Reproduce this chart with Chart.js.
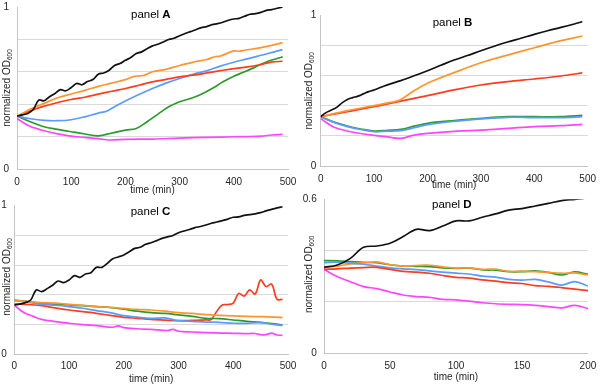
<!DOCTYPE html>
<html>
<head>
<meta charset="utf-8">
<script src="https://cdn.jsdelivr.net/npm/chart.js@4.4.1/dist/chart.umd.min.js"></script>
<style>
  html, body { margin: 0; padding: 0; background: #ffffff; }
  #wrap { position: relative; width: 603px; height: 384px; overflow: hidden; }
  canvas { position: absolute; left: 0; top: -20px; }
</style>
</head>
<body>
<div id="wrap">
  <canvas id="cA" width="603" height="404"></canvas>
  <canvas id="cB" width="603" height="404"></canvas>
  <canvas id="cC" width="603" height="404"></canvas>
  <canvas id="cD" width="603" height="404"></canvas>
</div>
<script>
// ---------------- DATA ----------------
const seriesNames = ['black', 'orange', 'red', 'blue', 'green', 'magenta'];

// Panel A
const A_black_t = [0,10,20,30,40,50,60,70,80,90,100,110,120,130,140,150,160,170,180,190,200,210,220,230,240,250,260,270,280,290,300,310,320,330,340,350,360,370,380,390,400,410,420,430,440,450,460,470,480,490];
const A_black = [.326,.334,.343,.367,.425,.421,.446,.466,.49,.483,.503,.528,.52,.54,.552,.585,.593,.61,.639,.651,.671,.688,.713,.723,.743,.76,.77,.784,.799,.807,.823,.836,.848,.86,.873,.879,.891,.897,.906,.918,.926,.93,.943,.955,.959,.967,.979,.984,.992,1.0];
const A_orange_t = [0,25,50,75,100,125,150,175,200,215,225,235,250,275,300,325,350,365,375,400,410,420,450,470,490];
const A_orange = [.326,.37,.405,.44,.463,.485,.51,.53,.552,.57,.575,.578,.6,.615,.639,.66,.676,.693,.697,.729,.727,.733,.749,.763,.78];
const A_red_t = [0,25,50,75,100,125,150,175,200,225,250,275,300,325,350,375,400,425,450,470,490];
const A_red = [.326,.36,.388,.41,.429,.443,.462,.48,.497,.517,.538,.553,.569,.58,.593,.607,.62,.63,.645,.66,.665];
const A_blue_t = [0,25,50,75,100,125,150,165,180,200,225,250,275,300,325,350,375,400,425,450,475,490];
const A_blue = [.326,.31,.3,.298,.304,.322,.345,.357,.385,.42,.46,.497,.53,.559,.585,.606,.635,.659,.68,.702,.723,.737];
const A_green_t = [0,20,50,75,100,125,150,175,200,220,240,260,280,300,320,340,360,380,400,420,440,460,480,490];
const A_green = [.326,.298,.261,.245,.23,.216,.205,.222,.24,.25,.292,.339,.384,.415,.435,.462,.497,.538,.573,.6,.63,.661,.682,.692];
const A_magenta_t = [0,10,25,50,75,100,125,150,170,200,250,300,350,400,450,470,490];
const A_magenta = [.312,.29,.262,.236,.217,.203,.195,.187,.179,.183,.185,.191,.195,.199,.203,.21,.214];

// Panel B
const B_black_t = [0,10,20,30,40,50,60,70,80,90,100,125,150,175,200,225,250,275,300,325,350,375,400,425,450,475,490];
const B_black = [.328,.355,.372,.39,.42,.443,.455,.465,.48,.495,.506,.54,.568,.6,.634,.67,.705,.735,.767,.797,.825,.85,.876,.9,.922,.945,.96];
const B_orange_t = [0,50,100,140,150,175,200,225,250,275,300,350,400,450,490];
const B_orange = [.328,.368,.402,.43,.443,.5,.55,.588,.621,.655,.687,.738,.787,.834,.865];
const B_red_t = [0,50,100,150,200,250,300,350,400,450,490];
const B_red = [.328,.362,.395,.432,.468,.506,.539,.561,.579,.599,.619];
const B_gb_t = [0,25,50,75,100,125,150,175,200,250,300,350,400,450,490];
const B_green = [.328,.292,.266,.246,.233,.238,.244,.265,.284,.302,.317,.328,.328,.328,.337];
const B_blue = [.328,.29,.262,.243,.228,.232,.235,.255,.275,.297,.313,.324,.322,.322,.328];
const B_magenta_t = [0,25,50,75,100,125,150,175,200,250,300,350,400,450,490];
const B_magenta = [.315,.258,.233,.216,.204,.194,.184,.205,.217,.231,.239,.25,.262,.268,.277];

// Panel C
const C_black_t = A_black_t;
const C_black = [.332,.338,.348,.365,.433,.422,.442,.465,.493,.482,.5,.529,.518,.54,.549,.585,.585,.612,.643,.655,.668,.69,.713,.72,.74,.751,.765,.78,.79,.8,.818,.83,.84,.852,.86,.87,.882,.89,.9,.91,.922,.925,.935,.94,.945,.953,.965,.975,.985,.993];
const C_ogb_t = [0,25,50,75,100,125,150,175,200,225,250,275,300,325,350,375,400,425,450,475,490];
const C_orange = [.361,.355,.348,.345,.336,.33,.321,.316,.309,.302,.298,.29,.28,.275,.267,.262,.258,.255,.253,.25,.247];
const C_green = [.365,.355,.343,.338,.332,.327,.321,.315,.303,.29,.28,.275,.265,.255,.242,.24,.231,.222,.215,.205,.197];
const C_blue = [.361,.35,.336,.33,.321,.31,.294,.28,.26,.25,.242,.245,.226,.222,.217,.215,.209,.208,.213,.2,.195];
const C_red_t = [0,25,50,75,100,125,150,175,200,225,250,275,300,325,350,360,370,380,390,400,410,420,430,440,450,460,470,480,490];
const C_red = [.338,.335,.327,.312,.298,.287,.276,.262,.249,.242,.235,.23,.226,.228,.231,.235,.29,.332,.335,.345,.41,.392,.433,.406,.5,.455,.473,.37,.37];
const C_magenta_t = [0,10,20,35,50,75,100,125,150,180,190,200,225,250,280,290,300,325,350,380,400,420,440,450,460,470,480,490];
const C_magenta = [.332,.3,.276,.255,.235,.22,.209,.2,.193,.182,.191,.179,.172,.168,.16,.168,.155,.15,.146,.143,.141,.139,.14,.132,.133,.142,.13,.128];

// Panel D
const D_t = [0,10,20,30,40,50,60,70,80,90,100,110,120,130,140,150,160,170,180,190,200];
const D_black = [.335,.344,.37,.413,.418,.429,.455,.483,.478,.496,.516,.516,.53,.543,.558,.564,.574,.584,.595,.6,.606];
const D_orange = [.335,.34,.348,.353,.356,.345,.34,.342,.343,.337,.332,.333,.327,.328,.319,.32,.318,.315,.312,.313,.305];
const D_red = [.327,.329,.332,.334,.335,.327,.319,.316,.312,.303,.296,.293,.286,.281,.275,.272,.264,.261,.256,.25,.244];
const D_blue = [.353,.355,.351,.347,.34,.333,.329,.326,.321,.316,.312,.309,.301,.297,.288,.285,.288,.278,.266,.279,.262];
const D_green = [.361,.36,.357,.354,.353,.345,.34,.339,.338,.333,.331,.332,.325,.324,.318,.318,.321,.315,.305,.317,.308];
const D_magenta = [.327,.299,.279,.26,.252,.239,.227,.221,.218,.21,.208,.203,.197,.193,.191,.19,.187,.182,.177,.187,.174];

// Axis tick settings
const A_xMax = 500, A_xStep = 100, A_yMax = 1;
const D_xMax = 200, D_xStep = 50, D_yMax = 0.6;
const yStep = 0.2;

// ---------------- STYLE ----------------
const FF = '"Liberation Sans", Arial, Helvetica, sans-serif';
const OFF = 20;            // canvases are shifted up by this many px
const CW = 603, CH = 404;
const colors = {
  black: '#111111', orange: '#ff9530', red: '#ff3c1e',
  blue: '#5b9bff', green: '#2a9a2a', magenta: '#ff45ff'
};
const textColor = '#262626';

function pts(t, v) { return t.map((x, i) => ({ x: x, y: v[i] })); }

const panelText = {
  id: 'panelText',
  afterDraw(chart, args, o) {
    const ctx = chart.ctx, a = chart.chartArea;
    ctx.save();
    ctx.translate(o.yTitleX, (a.top + a.bottom) / 2 + (o.yTitleDy || 0));
    ctx.rotate(-Math.PI / 2);
    ctx.fillStyle = textColor;
    ctx.textBaseline = 'middle';
    ctx.textAlign = 'left';
    const main = 'normalized OD', sub = '600';
    ctx.font = '10px ' + FF;
    const w1 = ctx.measureText(main).width;
    ctx.font = '6.5px ' + FF;
    const w2 = ctx.measureText(sub).width;
    const start = -(w1 + w2) / 2;
    ctx.font = '10px ' + FF;
    ctx.fillText(main, start, 0);
    ctx.font = '6.5px ' + FF;
    ctx.fillText(sub, start + w1, 2.5);
    ctx.restore();
    ctx.save();
    ctx.fillStyle = '#000000';
    ctx.textBaseline = 'middle';
    ctx.textAlign = 'left';
    ctx.font = '11.5px ' + FF;
    const p = 'panel ';
    const pw = ctx.measureText(p).width;
    ctx.fillText(p, o.titleX, o.titleY + OFF);
    ctx.font = 'bold 11.5px ' + FF;
    ctx.fillText(o.letter, o.titleX + pw, o.titleY + OFF);
    ctx.restore();
  }
};

function makePanel(id, sets, xMax, xStep, yMax, geo) {
  const datasets = sets.map(s => ({
    data: pts(s[1], s[2]),
    borderColor: colors[s[0]],
    borderWidth: 1.7,
    pointRadius: 0,
    tension: 0.35,
    fill: false
  }));
  const pad = {
    left: geo.l - geo.yw,
    right: CW - geo.r,
    top: geo.t + OFF,
    bottom: CH - (geo.b + OFF) - geo.xh
  };
  return new Chart(document.getElementById(id), {
    type: 'line',
    data: { datasets },
    plugins: [panelText],
    options: {
      responsive: false,
      animation: false,
      devicePixelRatio: 1,
      layout: { padding: pad },
      plugins: {
        legend: { display: false },
        tooltip: { enabled: false },
        panelText: { yTitleX: geo.ytx, yTitleDy: geo.ytdy || 0, titleX: geo.tx, titleY: geo.ty, letter: geo.letter }
      },
      scales: {
        x: {
          type: 'linear', min: 0, max: xMax,
          grid: { display: false, drawTicks: false },
          border: { display: true, color: '#c4c4c4', width: 1 },
          ticks: { stepSize: xStep, padding: geo.xpad, color: textColor, font: { family: FF, size: 10 }, maxRotation: 0 },
          title: { display: true, text: 'time (min)', color: textColor, padding: 0, font: { family: FF, size: 10 } },
          afterFit: (s) => { s.height = geo.xh; }
        },
        y: {
          type: 'linear', min: 0, max: yMax,
          grid: {
            drawTicks: false,
            color: (c) => (c.tick && c.tick.value > yMax - 1e-9) ? 'rgba(0,0,0,0)' : '#dadada',
            lineWidth: 1
          },
          border: { display: true, color: '#c4c4c4', width: 1 },
          ticks: {
            stepSize: yStep, padding: geo.ypad, color: textColor, font: { family: FF, size: 10 },
            callback: (v) => (Math.abs(v) < 1e-9 ? '0' : (Math.abs(v - yMax) < 1e-9 ? String(yMax) : ''))
          },
          afterFit: (s) => { s.width = geo.yw; }
        }
      }
    }
  });
}

makePanel('cA', [
  ['black', A_black_t, A_black], ['orange', A_orange_t, A_orange], ['red', A_red_t, A_red],
  ['blue', A_blue_t, A_blue], ['green', A_green_t, A_green], ['magenta', A_magenta_t, A_magenta]
], A_xMax, A_xStep, A_yMax,
  { l: 17, r: 288, t: 7, b: 169, yw: 17, xh: 27, xpad: 7, ypad: 8, ytx: 7.5, tx: 131, ty: 15, letter: 'A' });

makePanel('cB', [
  ['black', B_black_t, B_black], ['orange', B_orange_t, B_orange], ['red', B_red_t, B_red],
  ['blue', B_gb_t, B_blue], ['green', B_gb_t, B_green], ['magenta', B_magenta_t, B_magenta]
], A_xMax, A_xStep, A_yMax,
  { l: 320.7, r: 589, t: 15.7, b: 166, yw: 20, xh: 25, xpad: 7, ypad: 4.5, ytx: 309.5, tx: 432.7, ty: 23.3, letter: 'B' });

makePanel('cC', [
  ['black', C_black_t, C_black], ['orange', C_ogb_t, C_orange], ['blue', C_ogb_t, C_blue],
  ['green', C_ogb_t, C_green], ['red', C_red_t, C_red], ['magenta', C_magenta_t, C_magenta]
], A_xMax, A_xStep, A_yMax,
  { l: 14.3, r: 288, t: 205.7, b: 354.3, yw: 14.3, xh: 30.5, xpad: 6.4, ypad: 7.5, ytx: 7.3, ytdy: -3, tx: 130.7, ty: 211.7, letter: 'C' });

makePanel('cD', [
  ['black', D_t, D_black], ['red', D_t, D_red], ['blue', D_t, D_blue],
  ['orange', D_t, D_orange], ['green', D_t, D_green], ['magenta', D_t, D_magenta]
], D_xMax, D_xStep, D_yMax,
  { l: 324, r: 588.7, t: 199.3, b: 353.3, yw: 24, xh: 30.4, xpad: 6.7, ypad: 7.3, ytx: 309.7, ytdy: -2, tx: 432, ty: 205, letter: 'D' });
</script>
</body>
</html>
